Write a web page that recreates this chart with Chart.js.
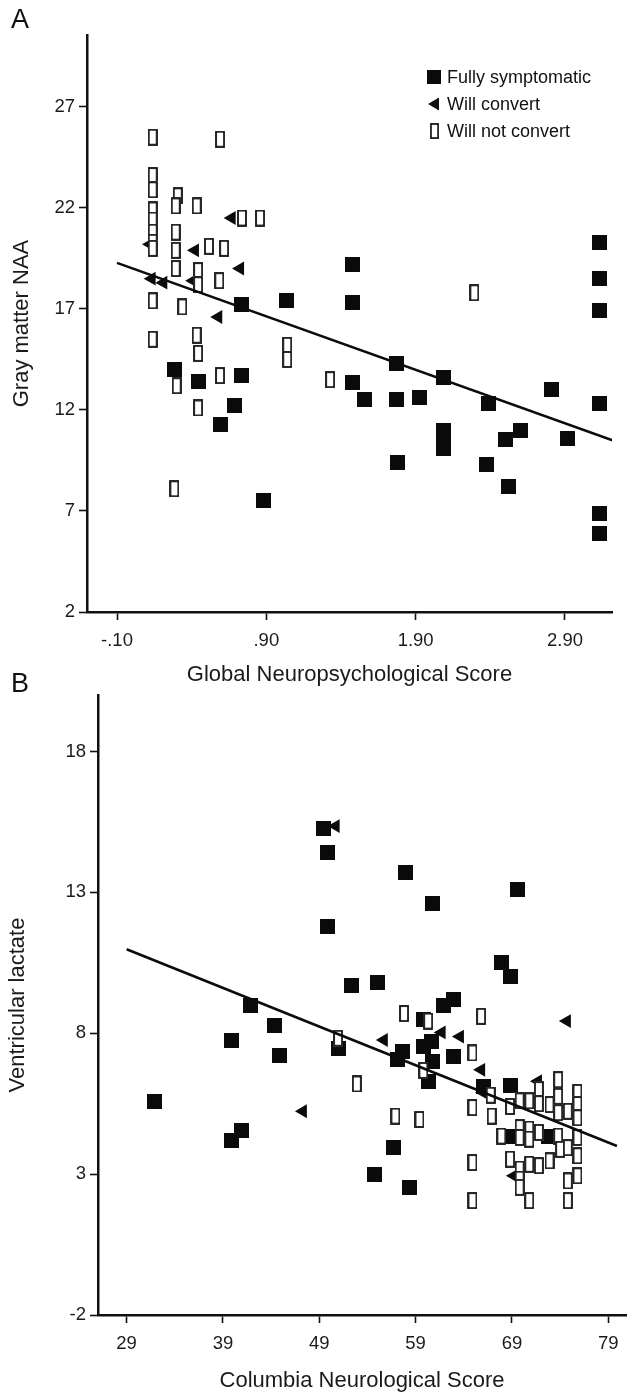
<!DOCTYPE html>
<html>
<head>
<meta charset="utf-8">
<script src="https://cdn.jsdelivr.net/npm/chart.js"></script>
<style>
html, body { margin: 0; padding: 0; background: #fff; }
body { width: 634px; height: 1394px; position: relative; overflow: hidden; font-family: "Liberation Sans", Arial, sans-serif; }
canvas { position: absolute; left: 0; }
.tag { position: absolute; font-size: 27px; color: #111; z-index: 2; }
</style>
</head>
<body>
<canvas id="chartA" style="top:0" width="634" height="700"></canvas>
<canvas id="chartB" style="top:680px" width="634" height="714"></canvas>
<div class="tag" style="left:11px;top:4px">A</div>
<div class="tag" style="left:11px;top:668px">B</div>
<script>
const FONT = '"Liberation Sans", Arial, sans-serif';
const seriesNames = ['Fully symptomatic', 'Will convert', 'Will not convert'];

// Panel A: Global Neuropsychological Score vs gray matter NAA
const xTicksA = [-0.1, 0.9, 1.9, 2.9];
const xTickLabelsA = ['-.10', '.90', '1.90', '2.90'];
const yTicksA = [2, 7, 12, 17, 22, 27];
const fullyA = [[0.735,17.2],[0.288,14.0],[0.445,13.4],[0.735,13.7],[0.684,12.2],[0.59,11.3],[0.88,7.5],
  [1.037,17.4],[1.479,19.2],[1.479,17.3],[3.13,20.3],[3.13,18.5],[3.13,16.9],[3.13,12.3],[3.13,6.9],[3.13,5.9],
  [1.77,14.3],[2.086,13.6],[1.479,13.35],[1.56,12.5],[1.77,12.5],[1.925,12.6],[2.387,12.3],[2.81,13.0],
  [2.086,11.0],[2.086,10.6],[2.086,10.1],[2.604,11.0],[2.5,10.55],[2.916,10.6],[1.78,9.4],[2.376,9.3],[2.52,8.2]];
const convertA = [[0.668,21.5],[0.121,20.2],[0.422,19.9],[0.724,19.0],[0.132,18.5],[0.21,18.3],[0.41,18.4],[0.578,16.6]];
const notConvertA = [[0.139,25.5],[0.59,25.4],[0.139,23.6],[0.139,22.9],[0.307,22.6],[0.139,21.9],[0.293,22.1],[0.434,22.1],
  [0.139,21.4],[0.737,21.5],[0.858,21.5],[0.139,20.8],[0.293,20.8],[0.139,20.3],[0.139,20.0],[0.293,19.9],[0.516,20.1],
  [0.617,20.0],[0.293,19.0],[0.443,18.9],[0.443,18.2],[0.585,18.4],[0.139,17.4],[0.337,17.1],[0.139,15.5],[0.434,15.7],
  [0.443,14.8],[0.30,13.2],[0.59,13.7],[0.443,12.1],[0.284,8.1],[1.04,15.2],[1.04,14.5],[1.327,13.5],[2.293,17.8]];
const fitA = [[-0.1,19.28],[3.22,10.5]];

// Panel B: Columbia Neurological Score vs ventricular lactate
const xTicksB = [29, 39, 49, 59, 69, 79];
const yTicksB = [-2, 3, 8, 13, 18];
const fullyB = [[49.4,15.25],[49.9,14.4],[57.9,13.7],[60.8,12.6],[49.9,11.8],[69.6,13.1],
  [41.9,9.0],[44.4,8.27],[39.9,7.73],[44.9,7.2],[50.95,7.47],[31.9,5.56],[40.9,4.56],[39.9,4.2],[54.7,3.0],
  [62.9,9.2],[61.9,9.0],[59.8,8.5],[57.6,7.35],[57.1,7.06],[59.8,7.53],[60.7,7.7],[60.8,7.0],[62.9,7.17],[60.3,6.3],
  [67.9,10.5],[68.8,10.03],[55.0,9.8],[52.3,9.7],[66.0,6.1],[68.8,6.14],[68.9,4.35],[72.8,4.35],
  [56.7,3.94],[58.4,2.53]];
const convertB = [[50.7,15.35],[47.3,5.23],[61.7,8.03],[63.6,7.88],[55.7,7.76],[74.7,8.43],[65.8,6.7],[71.7,6.3],[69.2,2.94],[66.0,5.9]];
const notConvertB = [[50.95,7.82],[52.9,6.2],[57.8,8.7],[60.3,8.43],[59.8,6.68],[56.9,5.06],[59.4,4.94],[65.8,8.6],
  [64.9,7.3],[66.8,5.8],[64.9,5.36],[66.9,5.06],[68.8,5.4],[69.8,5.6],[70.8,5.6],[71.8,6.0],[71.8,5.5],[72.9,5.47],
  [73.8,6.35],[73.8,5.76],[73.8,5.18],[74.8,5.23],[75.8,5.9],[75.8,5.47],[75.8,5.0],[67.9,4.35],[69.8,4.65],[69.8,4.3],
  [70.8,4.6],[70.8,4.24],[71.8,4.48],[73.8,4.35],[74.0,3.88],[74.8,3.94],[75.8,4.3],[75.8,3.65],[75.8,2.94],[68.8,3.53],
  [69.8,3.18],[69.8,2.82],[70.8,3.35],[71.8,3.3],[72.9,3.47],[70.8,2.06],[69.8,2.53],[74.8,2.76],[74.8,2.06],[64.9,3.41],[64.9,2.06]];
const fitB = [[29,10.98],[79.9,4.0]];

// marker images
function makeBox(w, h, filled) {
  const c = document.createElement('canvas');
  c.width = w; c.height = h;
  const g = c.getContext('2d');
  if (filled) {
    g.fillStyle = '#0b0b0b';
    g.fillRect(0, 0, w, h);
  } else {
    g.fillStyle = '#fff';
    g.fillRect(0, 0, w, h);
    g.strokeStyle = '#111';
    g.lineWidth = 1.8;
    g.strokeRect(1, 1, w - 2, h - 2);
  }
  return c;
}
const squareImg = makeBox(15, 15, true);
const boxImg = makeBox(10, 17, false);

const pts = arr => arr.map(p => ({ x: p[0], y: p[1] }));

function datasets(fully, conv, notConv, fit) {
  return [
    { label: 'fit', data: pts(fit), showLine: true, borderColor: '#0b0b0b', borderWidth: 2.6, pointRadius: 0, order: 0 },
    { label: seriesNames[2], data: pts(notConv), pointStyle: boxImg, order: 1 },
    { label: seriesNames[1], data: pts(conv), pointStyle: 'triangle', rotation: -90, pointRadius: 8,
      backgroundColor: '#0b0b0b', borderWidth: 0, order: 2 },
    { label: seriesNames[0], data: pts(fully), pointStyle: squareImg, order: 3 }
  ];
}

function axis(min, max, vals, labels, title, size, tickPad, titlePad) {
  return {
    type: 'linear', min: min, max: max,
    afterBuildTicks: s => { s.ticks = vals.map(v => ({ value: v })); },
    afterFit: s => { if (s.isHorizontal()) s.height = size; else s.width = size; },
    border: { display: true, color: '#111', width: 2.5 },
    grid: { drawOnChartArea: false, drawTicks: true, tickLength: 8, tickWidth: 1.6, tickColor: '#111' },
    ticks: { autoSkip: false, maxRotation: 0, padding: tickPad, color: '#1a1a1a',
      font: { family: FONT, size: 18.5 }, callback: (v, i) => labels[i] },
    title: { display: true, text: title, color: '#1a1a1a', font: { family: FONT, size: 22 }, padding: titlePad }
  };
}

// legend drawn inside the plot area
const innerLegend = {
  id: 'innerLegend',
  afterDraw(chart, args, o) {
    if (!o.show) return;
    const ctx = chart.ctx;
    ctx.save();
    ctx.font = '18px ' + FONT;
    ctx.fillStyle = '#111';
    ctx.textBaseline = 'middle';
    seriesNames.forEach((name, i) => {
      const y = o.y + i * o.gap;
      if (i === 0) ctx.drawImage(squareImg, o.x - 7, y - 7, 14, 14);
      if (i === 1) {
        ctx.beginPath();
        ctx.moveTo(o.x - 6, y);
        ctx.lineTo(o.x + 5, y - 6.5);
        ctx.lineTo(o.x + 5, y + 6.5);
        ctx.closePath();
        ctx.fill();
      }
      if (i === 2) ctx.drawImage(boxImg, o.x - 4, y - 8, 9, 16);
      ctx.fillText(name, o.x + 13, y + 1);
    });
    ctx.restore();
  }
};

const common = {
  responsive: false,
  animation: false,
  events: [],
  plugins: { legend: { display: false }, tooltip: { enabled: false } }
};

new Chart('chartA', {
  type: 'scatter',
  data: { datasets: datasets(fullyA, convertA, notConvertA, fitA) },
  options: Object.assign({}, common, {
    layout: { padding: { top: 35, right: 22, left: 0, bottom: 0 } },
    plugins: Object.assign({}, common.plugins, { innerLegend: { show: true, x: 434, y: 77, gap: 27 } }),
    scales: {
      x: axis(-0.301, 3.215, xTicksA, xTickLabelsA, 'Global Neuropsychological Score', 88, 10, { top: 0, bottom: 12 }),
      y: axis(2, 30.56, yTicksA, yTicksA.map(String), 'Gray matter NAA', 87, 4, { top: 9, bottom: 0 })
    }
  }),
  plugins: [innerLegend]
});

new Chart('chartB', {
  type: 'scatter',
  data: { datasets: datasets(fullyB, convertB, notConvertB, fitB) },
  options: Object.assign({}, common, {
    layout: { padding: { top: 12, right: 0, left: 0, bottom: 0 } },
    scales: {
      x: axis(26.03, 80.84, xTicksB, xTicksB.map(String), 'Columbia Neurological Score', 79, 10, { top: 0, bottom: 0 }),
      y: axis(-2, 20, yTicksB, yTicksB.map(String), 'Ventricular lactate', 98, 4, { top: 5, bottom: 0 })
    }
  }),
  plugins: [innerLegend]
});
</script>
</body>
</html>
